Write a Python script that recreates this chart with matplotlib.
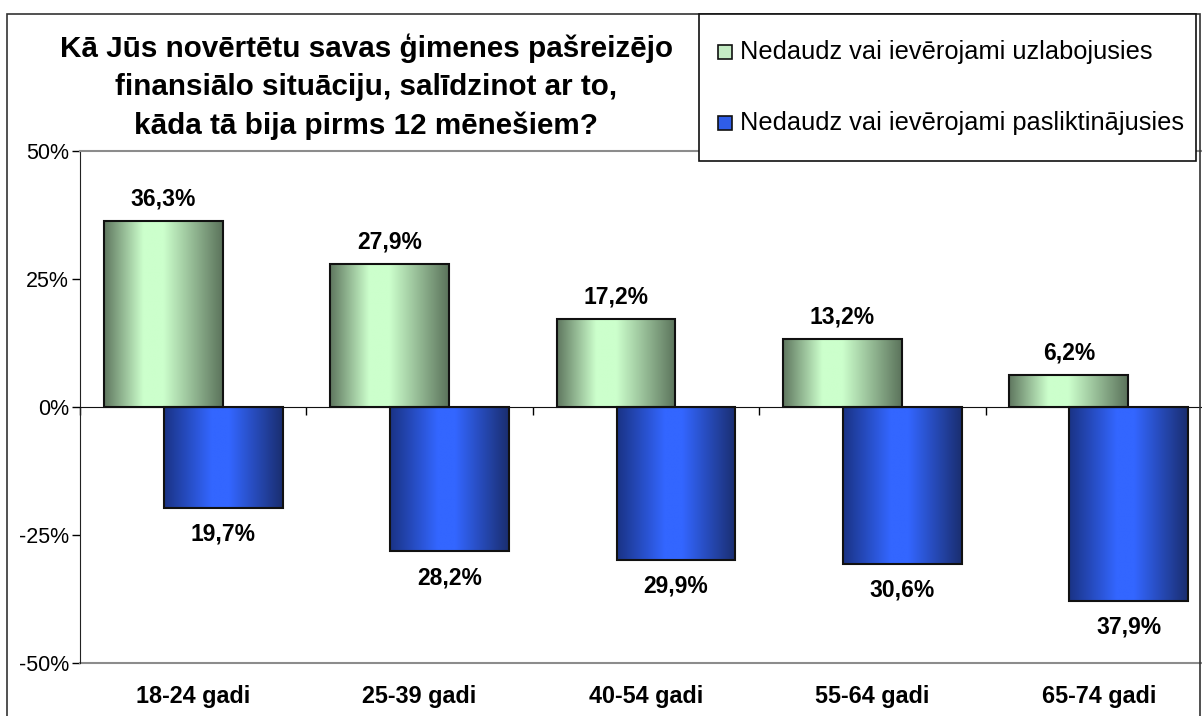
import numpy as np
import matplotlib
matplotlib.use("Agg")
import matplotlib.pyplot as plt
from matplotlib.colors import LinearSegmentedColormap
from matplotlib.patches import Rectangle
import matplotlib.transforms as mtransforms

plt.rcParams['font.family'] = ['Liberation Sans', 'DejaVu Sans']
plt.rcParams['axes.unicode_minus'] = False

# data
categories = ['18-24 gadi', '25-39 gadi', '40-54 gadi', '55-64 gadi', '65-74 gadi']
improved = [36.3, 27.9, 17.2, 13.2, 6.2]
worsened = [19.7, 28.2, 29.9, 30.6, 37.9]
series_names = ['Nedaudz vai ievērojami uzlabojusies',
                'Nedaudz vai ievērojami pasliktinājusies']
yticks = [-50, -25, 0, 25, 50]
title = ('Kā Jūs novērtētu savas ģimenes pašreizējo\n'
         'finansiālo situāciju, salīdzinot ar to,\n'
         'kāda tā bija pirms 12 mēnešiem?')

W, H = 1202, 716
fig = plt.figure(figsize=(W / 100, H / 100), dpi=100)

# plot area in pixels (runs off the right edge like the original)
left_px, right_px, top_px, bot_px = 80, 1212, 151, 663
ax = fig.add_axes([left_px / W, 1 - bot_px / H,
                   (right_px - left_px) / W, (bot_px - top_px) / H])

green_map = LinearSegmentedColormap.from_list(
    'g', [(0, '#5f775f'), (0.33, '#ccffcc'), (0.5, '#ccffcc'), (1, '#5b735b')])
blue_map = LinearSegmentedColormap.from_list(
    'b', [(0, '#1a3385'), (0.4, '#3366ff'), (0.55, '#3366ff'), (1, '#1a2e70')])

x = np.arange(len(categories))
bw = 0.525
off = 0.1325
b1 = ax.bar(x - off, improved, bw, facecolor='none', edgecolor='#111111',
            linewidth=1.5, zorder=3)
b2 = ax.bar(x + off, [-v for v in worsened], bw, facecolor='none',
            edgecolor='#111111', linewidth=1.5, zorder=3)

grad = np.linspace(0, 1, 256)[np.newaxis, :]
for bars, cmap in ((b1, green_map), (b2, blue_map)):
    for r in bars:
        x0, y0 = r.get_x(), r.get_y()
        im = ax.imshow(grad, extent=[x0, x0 + r.get_width(), y0, y0 + r.get_height()],
                       cmap=cmap, aspect='auto', zorder=2, interpolation='bilinear')
        im.set_clip_path(r)

# data labels
for xi, v in zip(x - off, improved):
    ax.annotate(f'{v:.1f}'.replace('.', ',') + '%', (xi, v), xytext=(0, 16),
                textcoords='offset points', ha='center', va='center',
                fontsize=16.5, fontweight='bold')
for xi, v in zip(x + off, worsened):
    ax.annotate(f'{v:.1f}'.replace('.', ',') + '%', (xi, -v), xytext=(0, -19),
                textcoords='offset points', ha='center', va='center',
                fontsize=16.5, fontweight='bold')

ax.set_xlim(-0.5, len(categories) - 0.5)
ax.set_ylim(-50, 50)

# axes styling
ax.spines['right'].set_visible(False)
ax.spines['top'].set_color('#8c8c8c')
ax.spines['top'].set_linewidth(1.5)
ax.spines['left'].set_color('#222222')
ax.spines['bottom'].set_position(('data', 0))
ax.spines['bottom'].set_color('#111111')
ax.axhline(-50, color='#8c8c8c', lw=1.5, clip_on=False)

ax.set_yticks(yticks)
ax.set_yticklabels([f'{t}%' for t in yticks], fontsize=15.5)
ax.tick_params(axis='y', length=6, width=1, pad=2)
ax.set_xticks(np.arange(len(categories) + 1) - 0.5)
ax.set_xticklabels([])
ax.tick_params(axis='x', length=6, width=1, direction='out')

trans = mtransforms.blended_transform_factory(ax.transData, ax.transAxes)
for xi, c in zip(x, categories):
    ax.text(xi, -34 / (bot_px - top_px), c, transform=trans, ha='center',
            va='center', fontsize=16.8, fontweight='bold')

# outer chart border
fig.patches.append(Rectangle((7 / W, -0.1), (1200 - 7) / W, 1.1 - 14 / H,
                             transform=fig.transFigure, fill=False,
                             edgecolor='#333333', lw=1.2, zorder=0))

# title
fig.text(366 / W, 1 - 87 / H, title, ha='center', va='center', fontsize=21.3,
         fontweight='bold', linespacing=1.45)

# legend box
fig.patches.append(Rectangle((699 / W, 1 - 161 / H), (1196 - 699) / W, 147 / H,
                             transform=fig.transFigure, facecolor='white',
                             edgecolor='#111111', lw=1.2, zorder=5))
for yc, col, name in ((52, '#c4ecc4', series_names[0]), (123, '#2f5de8', series_names[1])):
    fig.patches.append(Rectangle((718 / W, 1 - (yc + 7) / H), 14 / W, 14 / H,
                                 transform=fig.transFigure, facecolor=col,
                                 edgecolor='#111111', lw=1.2, zorder=6))
    fig.text(740 / W, 1 - yc / H, name, ha='left', va='center', fontsize=18.3,
             zorder=6)

fig.savefig('out.png', dpi=100)
